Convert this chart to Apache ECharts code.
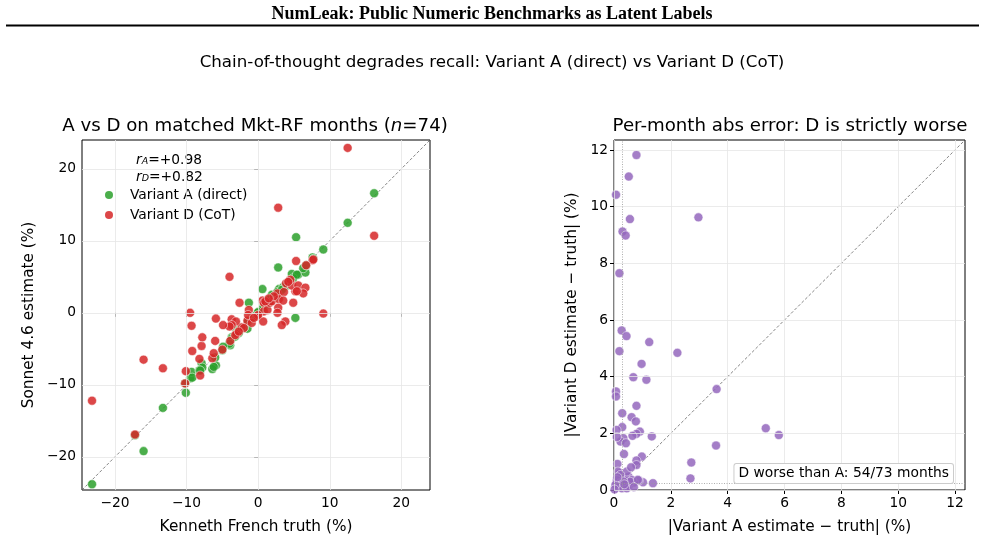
<!DOCTYPE html>
<html>
<head>
<meta charset="utf-8">
<script src="https://cdn.jsdelivr.net/npm/echarts@6/dist/echarts.min.js"></script>
<style>
  html, body { margin: 0; padding: 0; background: #fff; }
  #chart { width: 985px; height: 544px; }
</style>
</head>
<body>
<div id="chart"></div>
<script>
// left panel: one entry per matched month
const truth = [12.5, 16.2, 5.3, 9.1, -23.2, -16.0, -13.3, 2.8, 0.6, 5.2,
  -17.2, -9.5, -9.3, -10.1, -10.2, -7.9, -7.8, -5.9, -6.4, -6.2,
  -6.0, -9.2, -8.2, -8.1, -3.9, -4.0, -3.0, -2.3, -1.5, -3.7,
  -3.1, -3.7, -2.6, -1.3, -1.4, -0.9, -0.1, 0.8, 0.8, 1.3,
  0.7, 1.6, 1.9, 2.7, 2.9, 3.6, 3.5, 2.8, 2.7, 3.8,
  3.3, 3.9, 4.7, 5.6, 6.6, 6.3, 4.9, 7.6, 6.7, 7.7,
  5.4, -4.0, -3.2, -4.9, 0.0, -2.0, 4.5, 1.0, -0.6, 2.2,
  -5.0, 1.5, 4.2, -2.7];
const estA = [12.5, 16.6, 10.5, 8.8, -23.8, -19.2, -13.2, 6.3, 3.3, -0.7,
  -17.0, -9.1, -8.2, -11.1, -9.8, -7.0, -7.6, -7.3, -7.8, -7.5,
  -6.2, -9.0, -8.0, -8.0, -4.5, -4.2, -2.4, -2.1, -2.2, -3.4,
  -3.0, -3.6, -2.4, 1.4, -1.2, -0.8, 0.0, 0.9, 0.7, 1.2,
  0.7, 1.5, 2.5, 2.8, 3.3, 3.5, 3.6, 2.6, 2.9, 3.7,
  3.2, 4.0, 5.4, 5.3, 5.6, 6.2, 4.8, 7.7, 6.6, 7.5,
  5.3, -4.3, -3.3, -4.7, 0.1, -2.1, 4.4, 1.1, -0.5, 2.1,
  -5.2, 1.8, 4.3, -2.8];
const estD = [22.9, 10.7, 7.2, -0.1, -12.2, -6.5, -7.7, 14.6, 1.7, 3.0,
  -16.9, 0.0, -1.8, -8.1, -9.8, -4.6, -3.4, -0.8, -6.3, -5.6,
  -3.9, -5.3, -6.4, -8.7, -3.9, 5.0, -2.9, -2.0, -1.1, -0.9,
  -1.2, -1.7, 1.4, 0.4, -0.3, -1.4, -0.5, 1.4, 0.2, 0.4,
  -1.2, 1.4, 1.6, 2.7, 1.9, 2.9, 1.7, 0.7, 0.0, -1.2,
  -1.7, 4.1, 3.8, 3.8, 3.5, 2.7, 1.4, 7.3, 6.6, 7.4,
  3.0, -1.9, -3.1, -1.7, -0.3, -2.1, 4.6, 1.6, -0.7, 2.3,
  -5.1, 2.0, 4.3, -2.6];

// right panel: absolute errors per month
const errA = [0.79, 0.52, 0.07, 0.56, 2.97, 0.30, 0.41, 0.19, 0.27, 0.44,
  1.24, 0.19, 2.23, 0.97, 0.68, 1.14, 3.61, 0.07, 0.07, 0.79,
  0.29, 0.62, 0.77, 0.29, 0.09, 0.91, 0.79, 0.65, 1.33, 0.33,
  0.23, 0.42, 3.59, 5.34, 5.80, 0.10, 0.35, 0.98, 0.79, 2.72,
  0.12, 0.79, 2.69, 1.37, 1.02, 0.87, 0.19, 0.38, 0.51, 0.50,
  0.70, 0.09, 0.27, 0.14, 0.45, 0.22, 0.63, 0.10, 0.22, 0.40,
  0.51, 0.57, 0.16, 0.28, 0.45, 0.05, 0.84, 0.33, 0.12, 0.70,
  0.60, 0.36, 0.02];
const errD = [11.82, 11.06, 10.42, 9.56, 9.62, 9.12, 8.98, 7.65, 5.63, 5.43,
  5.22, 4.90, 4.84, 4.45, 3.98, 3.89, 3.56, 3.48, 3.30, 2.97,
  2.71, 2.57, 2.42, 2.22, 2.12, 2.06, 1.98, 1.91, 1.89, 1.83,
  1.71, 1.65, 1.57, 2.18, 1.94, 1.87, 1.27, 1.18, 1.04, 0.97,
  0.92, 0.88, 0.41, 0.24, 0.27, 0.33, 0.59, 0.41, 0.47, 0.24,
  0.26, 0.24, 0.12, 0.65, 0.65, 0.53, 0.35, 0.35, 0.24, 0.18,
  0.12, 0.29, 0.12, 0.06, 0.06, 0.18, 0.36, 0.30, 0.45, 0.10,
  0.80, 0.20, 0.02];

const leftTicks = [-20, -10, 0, 10, 20];
const rightTicks = [0, 2, 4, 6, 8, 10, 12];
const leftRange = [-24.6, 24.0];
const rightRange = [0, 12.35];
const floorA = 0.29;
const floorD = 0.24;

const GREEN = '#2ca02c';
const RED = '#d62728';
const PURPLE = '#9467bd';
const FONT = 'DejaVu Sans';

const chart = echarts.init(document.getElementById('chart'), null, { renderer: 'canvas' });

const fmt = (v) => String(v).replace('-', '\u2212');

const makeAxis = (gridIndex, range, ticks, name, gap) => ({
  type: 'value',
  gridIndex,
  min: range[0],
  max: range[1],
  name,
  nameLocation: 'middle',
  nameGap: gap,
  nameTextStyle: { fontFamily: FONT, fontSize: 15.3, color: '#000' },
  axisLine: { show: false },
  axisTick: { show: true, length: 4, lineStyle: { color: '#000', width: 1 }, customValues: ticks },
  axisLabel: { fontFamily: FONT, fontSize: 13.8, color: '#000', margin: 6, formatter: fmt, customValues: ticks },
  splitLine: { show: false },
});

const gridLines = (xi, yi, ticks) => ({
  type: 'line',
  xAxisIndex: xi,
  yAxisIndex: yi,
  data: [],
  silent: true,
  z: 1,
  markLine: {
    silent: true,
    symbol: ['none', 'none'],
    label: { show: false },
    animation: false,
    lineStyle: { color: '#e6e6e6', width: 0.8, type: 'solid' },
    data: ticks.map((t) => ({ xAxis: t })).concat(ticks.map((t) => ({ yAxis: t }))),
  },
});

const dot = (color) => ({
  color,
  opacity: 0.85,
  borderColor: '#fff',
  borderWidth: 0.6,
});

const rText = (letter, value) => ({
  text: `{i|r}{s|${letter}}{t|=${value}}`,
  rich: {
    t: { fontFamily: FONT, fontSize: 13.8, color: '#000', lineHeight: 16, verticalAlign: 'bottom' },
    i: { fontFamily: FONT, fontSize: 13.8, fontStyle: 'italic', color: '#000', lineHeight: 16, verticalAlign: 'bottom' },
    s: { fontFamily: FONT, fontSize: 9.5, fontStyle: 'italic', color: '#000', lineHeight: 11, verticalAlign: 'bottom', padding: [4, 0, 0, 0] },
  },
});

const option = {
  animation: false,
  backgroundColor: '#fff',
  grid: [
    { left: 82, top: 140, width: 348, height: 350, show: true, borderColor: '#000', borderWidth: 1, backgroundColor: 'transparent' },
    { left: 614, top: 140, width: 351, height: 350, show: true, borderColor: '#000', borderWidth: 1, backgroundColor: 'transparent' },
  ],
  xAxis: [
    makeAxis(0, leftRange, leftTicks, 'Kenneth French truth (%)', 30),
    makeAxis(1, rightRange, rightTicks, '|Variant A estimate \u2212 truth| (%)', 30),
  ],
  yAxis: [
    makeAxis(0, leftRange, leftTicks, 'Sonnet 4.6 estimate (%)', 45),
    makeAxis(1, rightRange, rightTicks, '|Variant D estimate \u2212 truth| (%)', 34),
  ],
  legend: {
    orient: 'vertical',
    left: 105,
    top: 187,
    padding: 0,
    itemWidth: 8,
    itemHeight: 8,
    itemGap: 4,
    icon: 'circle',
    itemStyle: { borderWidth: 0, opacity: 0.85 },
    data: ['Variant A (direct)', 'Variant D (CoT)'],
    textStyle: { fontFamily: FONT, fontSize: 13.8, color: '#000', padding: [0, 0, 0, 12], lineHeight: 16 },
  },
  graphic: [
    {
      type: 'text',
      style: { x: 492, y: 14, text: 'NumLeak: Public Numeric Benchmarks as Latent Labels', font: 'bold 18px "Liberation Serif"', fill: '#000', textAlign: 'center', textVerticalAlign: 'middle' },
    },
    {
      type: 'line',
      shape: { x1: 6, y1: 25.5, x2: 979, y2: 25.5 },
      style: { stroke: '#000', lineWidth: 2 },
    },
    {
      type: 'text',
      style: { x: 492, y: 63, text: 'Chain-of-thought degrades recall: Variant A (direct) vs Variant D (CoT)', font: '16.7px "DejaVu Sans"', fill: '#000', textAlign: 'center', textVerticalAlign: 'middle' },
    },
    {
      type: 'text',
      style: {
        x: 255, y: 126, textAlign: 'center', textVerticalAlign: 'middle',
        text: '{t|A vs D on matched Mkt-RF months (}{i|n}{t|=74)}',
        rich: {
          t: { fontFamily: FONT, fontSize: 18.2, color: '#000' },
          i: { fontFamily: FONT, fontSize: 18.2, fontStyle: 'italic', color: '#000' },
        },
      },
    },
    {
      type: 'text',
      style: { x: 790, y: 126, text: 'Per-month abs error: D is strictly worse', font: '18.2px "DejaVu Sans"', fill: '#000', textAlign: 'center', textVerticalAlign: 'middle' },
    },
    {
      type: 'text',
      style: Object.assign({ x: 136, y: 159, textAlign: 'left', textVerticalAlign: 'middle' }, rText('A', '+0.98')),
    },
    {
      type: 'text',
      style: Object.assign({ x: 136, y: 176, textAlign: 'left', textVerticalAlign: 'middle' }, rText('D', '+0.82')),
    },
    {
      type: 'text',
      z: 100,
      style: {
        x: 953, y: 473.5, text: 'D worse than A: 54/73 months', font: '13.8px "DejaVu Sans"', fill: '#000',
        textAlign: 'right', textVerticalAlign: 'middle',
        backgroundColor: '#fff', borderColor: '#cccccc', borderWidth: 1, borderRadius: 2, padding: [3, 4, 2, 4],
      },
    },
  ],
  series: [
    gridLines(0, 0, leftTicks),
    gridLines(1, 1, rightTicks),
    {
      type: 'line',
      xAxisIndex: 0,
      yAxisIndex: 0,
      data: [[leftRange[0], leftRange[0]], [leftRange[1], leftRange[1]]],
      showSymbol: false,
      silent: true,
      z: 2,
      lineStyle: { color: '#666', width: 0.8, type: [3, 2] },
    },
    {
      type: 'line',
      xAxisIndex: 1,
      yAxisIndex: 1,
      data: [[rightRange[0], rightRange[0]], [rightRange[1], rightRange[1]]],
      showSymbol: false,
      silent: true,
      z: 2,
      lineStyle: { color: '#666', width: 0.8, type: [3, 2] },
      markLine: {
        silent: true,
        symbol: ['none', 'none'],
        label: { show: false },
        lineStyle: { color: '#999', width: 0.8, type: [1, 1.5] },
        data: [{ xAxis: floorA }, { yAxis: floorD }],
      },
    },
    {
      name: 'Variant A (direct)',
      type: 'scatter',
      xAxisIndex: 0,
      yAxisIndex: 0,
      z: 3,
      symbolSize: 9,
      itemStyle: dot(GREEN),
      data: truth.map((t, i) => [t, estA[i]]),
    },
    {
      name: 'Variant D (CoT)',
      type: 'scatter',
      xAxisIndex: 0,
      yAxisIndex: 0,
      z: 4,
      symbolSize: 9,
      itemStyle: dot(RED),
      data: truth.map((t, i) => [t, estD[i]]),
    },
    {
      name: 'abs error',
      type: 'scatter',
      xAxisIndex: 1,
      yAxisIndex: 1,
      z: 3,
      symbolSize: 9,
      itemStyle: dot(PURPLE),
      data: errA.map((a, i) => [a, errD[i]]),
    },
  ],
};

chart.setOption(option);
</script>
</body>
</html>
